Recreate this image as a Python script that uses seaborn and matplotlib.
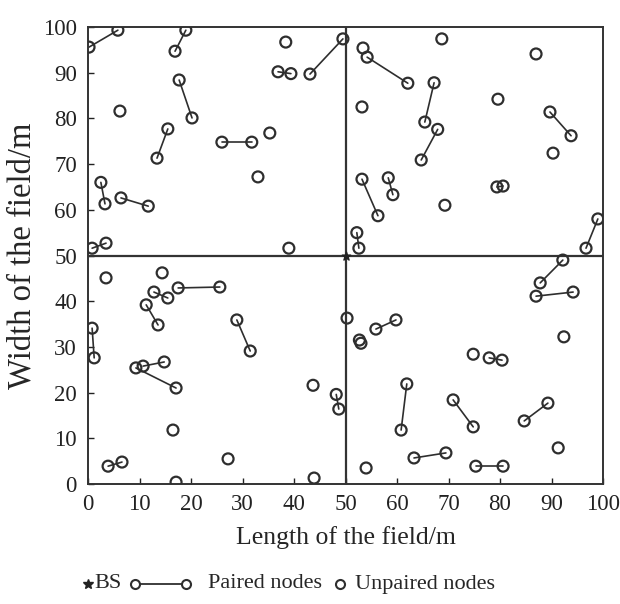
import numpy as np
import pandas as pd
import matplotlib
matplotlib.use("Agg")
import matplotlib.pyplot as plt
import seaborn as sns
from matplotlib.lines import Line2D

# paired nodes: start point / end point
pair_x1 = [0.2, 16.9, 17.7, 15.5, 26.0, 36.9, 43.1, 0.8, 2.5, 6.4,
           54.2, 67.2, 67.9, 89.7, 53.2, 58.3, 79.4, 52.2, 99.0,
           12.8, 17.5, 11.3, 0.8, 28.9, 10.7, 9.3, 48.2, 3.9,
           92.2, 87.0, 55.9, 77.9, 61.9, 70.9, 89.3, 63.3, 75.3]
pair_y1 = [95.6, 94.7, 88.4, 77.7, 74.8, 90.2, 89.7, 51.6, 66.0, 62.6,
           93.4, 87.8, 77.6, 81.4, 66.7, 67.0, 65.0, 55.0, 58.0,
           42.0, 42.9, 39.2, 34.1, 35.9, 25.8, 25.4, 19.6, 3.9,
           49.0, 41.1, 33.9, 27.6, 21.9, 18.4, 17.7, 5.7, 3.9]
pair_x2 = [5.8, 19.0, 20.2, 13.4, 31.8, 39.4, 49.5, 3.5, 3.3, 11.7,
           62.1, 65.4, 64.7, 93.8, 56.3, 59.2, 80.6, 52.6, 96.7,
           15.5, 25.6, 13.6, 1.2, 31.5, 14.8, 17.1, 48.7, 6.6,
           87.8, 94.2, 59.8, 80.4, 60.8, 74.8, 84.7, 69.5, 80.6]
pair_y2 = [99.3, 99.3, 80.1, 71.3, 74.8, 89.8, 97.4, 52.7, 61.3, 60.8,
           87.7, 79.2, 70.9, 76.2, 58.7, 63.3, 65.2, 51.6, 51.6,
           40.7, 43.1, 34.8, 27.6, 29.1, 26.7, 21.0, 16.4, 4.8,
           44.0, 42.0, 35.9, 27.1, 11.8, 12.5, 13.8, 6.8, 3.9]

# unpaired nodes
single_x = [6.2, 35.3, 33.0, 38.4, 39.0, 53.4, 68.7, 87.0, 53.2, 79.6,
            90.3, 69.3, 3.5, 14.4, 43.7, 16.5, 27.2, 17.1, 43.9,
            50.3, 52.7, 53.0, 92.4, 74.8, 91.3, 54.0]
single_y = [81.6, 76.8, 67.2, 96.7, 51.6, 95.4, 97.4, 94.1, 82.5, 84.2,
            72.4, 61.0, 45.1, 46.2, 21.6, 11.8, 5.5, 0.4, 1.3,
            36.3, 31.5, 30.8, 32.2, 28.4, 7.9, 3.5]

bs_x = [50]
bs_y = [50]

sns.set_style("ticks")
plt.rcParams["font.family"] = ["Liberation Serif", "DejaVu Serif"]

W, H = 620, 604
fig = plt.figure(figsize=(W / 100, H / 100), dpi=100)
ax = fig.add_axes([88 / W, 1 - 484 / H, 515 / W, 457 / H])

node_color = "#2e2e2e"

# quadrant lines
ax.axvline(50, color="#333333", lw=1.6, zorder=1)
ax.axhline(50, color="#333333", lw=1.6, zorder=1)

pairs = pd.DataFrame({
    "pair": np.repeat(np.arange(len(pair_x1)), 2),
    "x": np.ravel(np.column_stack([pair_x1, pair_x2])),
    "y": np.ravel(np.column_stack([pair_y1, pair_y2])),
})
sns.lineplot(data=pairs, x="x", y="y", units="pair", estimator=None,
             sort=False, color=node_color, lw=1.2, ax=ax, zorder=2)
sns.scatterplot(data=pairs, x="x", y="y", s=62, facecolor="none",
                edgecolor=node_color, linewidth=1.6, ax=ax, zorder=3)

singles = pd.DataFrame({"x": single_x, "y": single_y})
sns.scatterplot(data=singles, x="x", y="y", s=62, facecolor="none",
                edgecolor=node_color, linewidth=1.6, ax=ax, zorder=3)

ax.scatter(bs_x, bs_y, marker="*", s=40, color="#222222", zorder=4)

ax.set_xlim(0, 100)
ax.set_ylim(0, 100)
ax.set_xticks(range(0, 101, 10))
ax.set_yticks(range(0, 101, 10))
ax.tick_params(direction="in", labelsize=16.5, length=4, width=1,
               colors="#222222")
ax.tick_params(axis="x", pad=7)
ax.tick_params(axis="y", pad=8)
for s in ax.spines.values():
    s.set_linewidth(1.4)
    s.set_color("#333333")
ax.set_xlabel("Length of the field/m", fontsize=18.5, labelpad=8)
ax.set_ylabel("Width of the field/m", fontsize=23.5, labelpad=4)

# legend row under the plot
ly = 1 - 584 / H
fig.add_artist(Line2D([88 / W], [ly], ls="none", marker="*", markersize=7,
                      color="#222222", transform=fig.transFigure))
fig.text(94 / W, ly, "BS", fontsize=16, va="center", ha="left")
fig.add_artist(Line2D([135 / W, 186 / W], [ly, ly], color=node_color, lw=1.3,
                      marker="o", markersize=6.5, markerfacecolor="white",
                      markeredgecolor=node_color, markeredgewidth=1.5,
                      transform=fig.transFigure))
fig.text(208 / W, ly, "Paired nodes", fontsize=16, va="center", ha="left")
fig.add_artist(Line2D([340 / W], [ly], ls="none", marker="o", markersize=6.5,
                      markerfacecolor="none", markeredgecolor=node_color,
                      markeredgewidth=1.5, transform=fig.transFigure))
fig.text(355 / W, ly, "Unpaired nodes", fontsize=16, va="center", ha="left")

fig.savefig("out.png", dpi=100)
